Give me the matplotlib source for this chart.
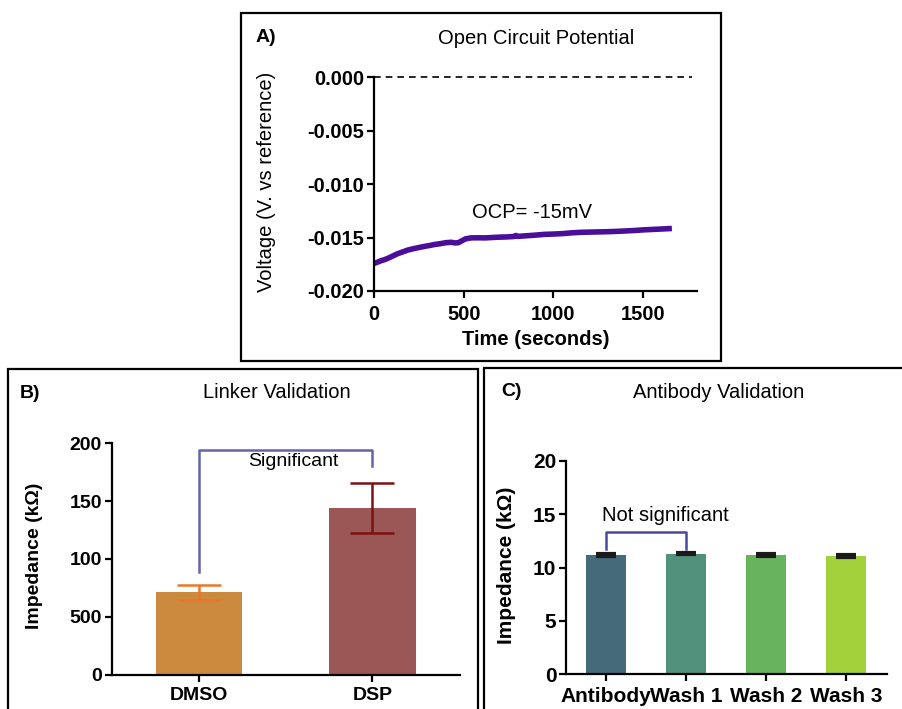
import matplotlib
matplotlib.use("Agg")
import matplotlib.pyplot as plt
from matplotlib.patches import Rectangle

plt.rcParams["font.family"] = ["Liberation Sans", "DejaVu Sans"]
plt.rcParams["axes.unicode_minus"] = False

W, H = 902, 709

# A) open circuit potential
ocp_time = [0, 20, 40, 60, 80, 100, 130, 160, 190, 220, 250, 280, 310, 340, 370, 400,
            430, 450, 470, 490, 510, 540, 580, 620, 660, 700, 740, 780, 790, 800, 850,
            900, 950, 1000, 1050, 1100, 1150, 1200, 1250, 1300, 1350, 1400, 1450, 1500,
            1550, 1600, 1660]
ocp_volt = [-0.01742, -0.01730, -0.01716, -0.01706, -0.01692, -0.01676, -0.01652, -0.01634,
            -0.01616, -0.01604, -0.01593, -0.01583, -0.01574, -0.01564, -0.01557, -0.01548,
            -0.01544, -0.01550, -0.01548, -0.01530, -0.01512, -0.01503, -0.01502, -0.01503,
            -0.01499, -0.01496, -0.01494, -0.01490, -0.01480, -0.01489, -0.01483, -0.01477,
            -0.01470, -0.01467, -0.01463, -0.01456, -0.01451, -0.01449, -0.01447, -0.01445,
            -0.01442, -0.01438, -0.01434, -0.01428, -0.01424, -0.01420, -0.01415]

# B) linker validation
linker_groups = ["DMSO", "DSP"]
linker_mean = [71, 144]
linker_err = [6.5, 22]
linker_ticks = [0, 50, 100, 150, 200]
linker_ticklabels = ["0", "500", "100", "150", "200"]

# C) antibody validation
ab_groups = ["Antibody", "Wash 1", "Wash 2", "Wash 3"]
ab_mean = [11.15, 11.3, 11.15, 11.08]
ab_err = [0.08, 0.08, 0.07, 0.07]


def rect(x0, y0, x1, y1):
    return [x0 / W, 1 - y1 / H, (x1 - x0) / W, (y1 - y0) / H]


def box(x0, y0, x1, y1):
    fig.add_artist(Rectangle((x0 / W, 1 - y1 / H), (x1 - x0) / W, (y1 - y0) / H,
                             transform=fig.transFigure, fill=False, lw=1.6, ec="black"))


def label(x, y, s, **kw):
    fig.text(x / W, 1 - y / H, s, ha="center", va="center", **kw)


def style(ax, size, xpad=4):
    for s in ["top", "right"]:
        ax.spines[s].set_visible(False)
    for s in ["left", "bottom"]:
        ax.spines[s].set_linewidth(1.6)
    ax.tick_params(width=1.6, length=5, labelsize=size, pad=2)
    ax.tick_params(axis="x", pad=xpad)
    for lab in ax.get_xticklabels() + ax.get_yticklabels():
        lab.set_fontweight("bold")


fig = plt.figure(figsize=(9.02, 7.09), dpi=100)

box(241, 13, 721, 360.5)
box(8, 369, 478, 720)
box(484, 368, 910, 720)

# ---- panel A
axA = fig.add_axes(rect(374, 77.3, 697, 291))
axA.plot(ocp_time, ocp_volt, color="#4a0e9a", lw=4, solid_capstyle="butt")
axA.plot([0, 1770], [0, 0], color="black", lw=1.2, ls=(0, (4, 3)), clip_on=False)
axA.set_xlim(0, 1800)
axA.set_ylim(-0.020, 0.000)
axA.set_xticks([0, 500, 1000, 1500])
axA.set_yticks([-0.020, -0.015, -0.010, -0.005, 0.000])
axA.set_yticklabels(["%.3f" % v for v in axA.get_yticks()])
style(axA, 14.5, xpad=5)
axA.text(880, -0.0127, "OCP= -15mV", ha="center", va="center", fontsize=14.5)

label(266, 37, "A)", fontsize=14, fontweight="bold")
label(536, 38, "Open Circuit Potential", fontsize=14.5)
label(267, 182, "Voltage (V. vs reference)", fontsize=14.5, rotation=90)
label(536, 340, "Time (seconds)", fontsize=14.5, fontweight="bold")

# ---- panel B
axB = fig.add_axes(rect(111.7, 443.3, 460, 674.5))
b_colors = ["#cc8a3e", "#9b5656"]
e_colors = ["#e8772a", "#7a1212"]
for i in range(len(linker_groups)):
    axB.bar(i, linker_mean[i], width=0.5, color=b_colors[i], zorder=1)
    axB.errorbar(i, linker_mean[i], yerr=linker_err[i], color=e_colors[i], lw=1.8,
                 capsize=15.5, capthick=1.8, zorder=2)
axB.plot([0, 0, 1, 1], [89, 194.6, 194.6, 180], color="#6464a8", lw=1.8)
axB.text(0.546, 184, "Significant", ha="center", va="center", fontsize=14)
axB.set_xlim(-0.504, 1.506)
axB.set_ylim(0, 200)
axB.set_xticks(range(len(linker_groups)))
axB.set_xticklabels(linker_groups)
axB.set_yticks(linker_ticks)
axB.set_yticklabels(linker_ticklabels)
style(axB, 14)

label(30, 393, "B)", fontsize=14, fontweight="bold")
label(277, 393, "Linker Validation", fontsize=14.5)
label(35, 556, "Impedance (k\u03a9)", fontsize=14, fontweight="bold", rotation=90)

# ---- panel C
axC = fig.add_axes(rect(566, 460.7, 886.7, 674.3))
c_colors = ["#456b7b", "#51907a", "#68b45e", "#a3d13b"]
axC.bar(range(len(ab_groups)), ab_mean, width=0.5, color=c_colors, zorder=1)
axC.errorbar(range(len(ab_groups)), ab_mean, yerr=ab_err, fmt="none", ecolor="#1a1a1a",
             lw=1.5, capsize=7, capthick=3, zorder=2)
axC.plot([0, 0, 1, 1], [11.7, 13.35, 13.35, 11.7], color="#4a4a9a", lw=1.8)
axC.text(0.746, 14.85, "Not significant", ha="center", va="center", fontsize=14.5)
axC.set_xlim(-0.5, 3.51)
axC.set_ylim(0, 20)
axC.set_xticks(range(len(ab_groups)))
axC.set_xticklabels(ab_groups)
axC.set_yticks([0, 5, 10, 15, 20])
style(axC, 15)

label(511, 392, "C)", fontsize=14, fontweight="bold")
label(719, 393, "Antibody Validation", fontsize=14.5)
label(507, 565, "Impedance (k\u03a9)", fontsize=15, fontweight="bold", rotation=90)

fig.savefig("out.png", dpi=100)
